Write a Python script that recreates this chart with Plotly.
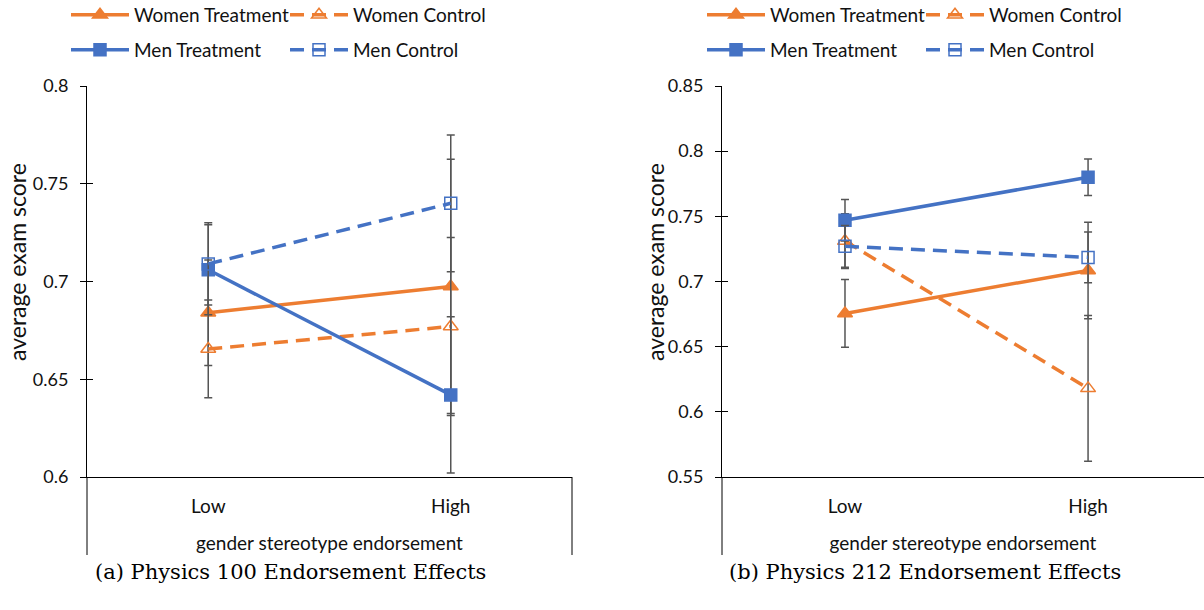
import plotly.graph_objects as go

# Endorsement level categories
levels = ["Low", "High"]

# Physics 100: mean exam score and error bar half-widths
p100_women_treat = [0.684, 0.6975]
p100_women_treat_err = [0.027, 0.065]
p100_women_ctrl = [0.6655, 0.677]
p100_women_ctrl_err = [0.025, 0.0455]
p100_men_treat = [0.706, 0.642]
p100_men_treat_err = [0.023, 0.040]
p100_men_ctrl = [0.709, 0.740]
p100_men_ctrl_err = [0.021, 0.035]

# Physics 212: mean exam score and error bar half-widths
p212_women_treat = [0.6755, 0.7085]
p212_women_treat_err = [0.026, 0.037]
p212_women_ctrl = [0.731, 0.618]
p212_women_ctrl_err = [0.021, 0.056]
p212_men_treat = [0.747, 0.780]
p212_men_treat_err = [0.016, 0.014]
p212_men_ctrl = [0.727, 0.7185]
p212_men_ctrl_err = [0.016, 0.0195]

series_names = ["Women Treatment", "Women Control", "Men Treatment", "Men Control"]
y_ticks_p100 = [0.6, 0.65, 0.7, 0.75, 0.8]
y_ticks_p212 = [0.55, 0.6, 0.65, 0.7, 0.75, 0.8, 0.85]

ORANGE = "#ED7D31"
BLUE = "#4472C4"
ERR = "#555555"
FONT = "Lato"

styles = {
    "Women Treatment": dict(color=ORANGE, dash="solid", symbol="triangle-up", size=13),
    "Women Control": dict(color=ORANGE, dash="14px,8px", symbol="triangle-up-open", size=13),
    "Men Treatment": dict(color=BLUE, dash="solid", symbol="square", size=12),
    "Men Control": dict(color=BLUE, dash="14px,8px", symbol="square-open", size=12),
}

fig = go.Figure()

panels = [
    ("x", "y", ["legend", "legend", "legend2", "legend2"],
     [(p100_women_treat, p100_women_treat_err), (p100_women_ctrl, p100_women_ctrl_err),
      (p100_men_treat, p100_men_treat_err), (p100_men_ctrl, p100_men_ctrl_err)]),
    ("x2", "y2", ["legend3", "legend3", "legend4", "legend4"],
     [(p212_women_treat, p212_women_treat_err), (p212_women_ctrl, p212_women_ctrl_err),
      (p212_men_treat, p212_men_treat_err), (p212_men_ctrl, p212_men_ctrl_err)]),
]

for xa, ya, legs, data in panels:
    for name, leg, (vals, errs) in zip(series_names, legs, data):
        st = styles[name]
        fig.add_trace(go.Scatter(
            x=levels, y=vals, name=name, xaxis=xa, yaxis=ya, legend=leg,
            mode="lines+markers",
            line=dict(color=st["color"], width=3.5, dash=st["dash"]),
            marker=dict(symbol=st["symbol"], size=st["size"], color=st["color"],
                        line=dict(color=st["color"], width=1.5)),
            error_y=dict(type="data", array=errs, visible=True,
                         color=ERR, thickness=1.5, width=4),
        ))

ytick_font = dict(family=FONT, size=18, color="#111")
xtick_font = dict(family=FONT, size=19, color="#111")
xtitle_font = dict(family=FONT, size=19, color="#111")
ytitle_font = dict(family=FONT, size=23, color="#111")

common_y = dict(showline=True, linecolor="black", linewidth=1, ticks="outside",
                ticklen=6, tickcolor="black", showgrid=False, zeroline=False,
                tickfont=ytick_font, ticklabelstandoff=8)
common_x = dict(type="category", showline=True, linecolor="black", linewidth=1,
                ticks="outside", ticklen=12, tickcolor="rgba(0,0,0,0)",
                showgrid=False, zeroline=False, tickfont=xtick_font)

L, R, T, B = 87, 0, 86, 133
W, H = 1204, 610
gw = W - L - R
gh = H - T - B
left_dom = [0, (572 - L) / gw]
right_dom = [(722 - L) / gw, 1]

fig.update_layout(
    width=W, height=H, margin=dict(l=L, r=R, t=T, b=B, autoexpand=False),
    plot_bgcolor="white", paper_bgcolor="white",
    font=dict(family=FONT, color="#111"),
    xaxis=dict(domain=left_dom, anchor="y", range=[-0.5, 1.5],
               title=dict(text="gender stereotype endorsement", font=xtitle_font, standoff=20),
               **common_x),
    yaxis=dict(domain=[0, 1], anchor="x", range=[0.6, 0.8], tickvals=y_ticks_p100,
               **common_y),
    xaxis2=dict(domain=right_dom, anchor="y2", range=[-0.506, 1.477],
                title=dict(text="gender stereotype endorsement", font=xtitle_font, standoff=20),
                **common_x),
    yaxis2=dict(domain=[0, 1], anchor="x2", range=[0.55, 0.85], tickvals=y_ticks_p212,
                **common_y),
    # inner half of the crossing tick marks
    yaxis3=dict(overlaying="y", anchor="x", range=[0.6, 0.8], tickvals=y_ticks_p100,
                ticks="inside", ticklen=6, tickcolor="black", showticklabels=False,
                showline=False, showgrid=False, zeroline=False),
    yaxis4=dict(overlaying="y2", anchor="x2", range=[0.55, 0.85], tickvals=y_ticks_p212,
                ticks="inside", ticklen=6, tickcolor="black", showticklabels=False,
                showline=False, showgrid=False, zeroline=False),
)

leg_common = dict(orientation="h", xanchor="left", yanchor="middle", itemwidth=58,
                  entrywidth=146, font=dict(family=FONT, size=19, color="#111"),
                  bgcolor="rgba(0,0,0,0)", itemclick=False, itemdoubleclick=False)
row1_y = (H - B - 15) / gh
row2_y = (H - B - 50) / gh
lx_left = (66 - L) / gw
lx_right = (702 - L) / gw
fig.update_layout(
    legend=dict(x=lx_left, y=row1_y, **leg_common),
    legend2=dict(x=lx_left, y=row2_y, **leg_common),
    legend3=dict(x=lx_right, y=row1_y, **leg_common),
    legend4=dict(x=lx_right, y=row2_y, **leg_common),
)

# placeholder traces so the overlay tick axes render
fig.add_trace(go.Scatter(x=[], y=[], xaxis="x", yaxis="y3", showlegend=False))
fig.add_trace(go.Scatter(x=[], y=[], xaxis="x2", yaxis="y4", showlegend=False))

# frame lines around the category label band
ext = -78 / gh
frame = dict(type="line", line=dict(color="black", width=1))
fig.add_shape(xref="x domain", yref="y domain", x0=0, x1=0, y0=0, y1=ext, **frame)
fig.add_shape(xref="x domain", yref="y domain", x0=1, x1=1, y0=0, y1=ext, **frame)
fig.add_shape(xref="x2 domain", yref="y2 domain", x0=0, x1=0, y0=0, y1=ext, **frame)

# vertical axis titles
for px, label in [(17, "average exam score"), (655, "average exam score")]:
    fig.add_annotation(text=label, xref="paper", yref="paper",
                       x=(px - L) / gw, y=(H - B - 262) / gh, textangle=-90,
                       showarrow=False, font=ytitle_font,
                       xanchor="center", yanchor="middle")

cap_y = (H - B - 572) / gh
cap_font = dict(family="DejaVu Serif", size=21, color="black")
fig.add_annotation(text="(a) Physics 100 Endorsement Effects", xref="paper", yref="paper",
                   x=(290 - L) / gw, y=cap_y, showarrow=False, font=cap_font,
                   xanchor="center", yanchor="middle")
fig.add_annotation(text="(b) Physics 212 Endorsement Effects", xref="paper", yref="paper",
                   x=(925 - L) / gw, y=cap_y, showarrow=False, font=cap_font,
                   xanchor="center", yanchor="middle")

fig.write_html("out.html")
